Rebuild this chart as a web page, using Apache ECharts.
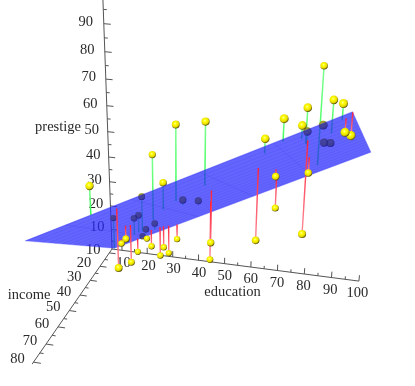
<!DOCTYPE html>
<html><head><meta charset="utf-8"><style>html,body{margin:0;padding:0;background:#fff}#c{width:415px;height:386px}</style>
<script src="https://cdn.jsdelivr.net/npm/echarts@6/dist/echarts.min.js"></script></head><body><div id="c"></div>
<script>
// Values read per point: education, income, prestige
const education=[86,76,92,90,86,84,93,100,87,86,74,98,97,84,91,34,45,56,44,82,72,55,71,50,23,39,28,32,22,25,29,7,26,19,15,20,26,28,17,22,30,25,20,47,32];
const income=[62,72,75,55,64,21,64,80,67,72,42,76,76,41,48,76,53,60,42,78,29,48,55,29,21,47,81,36,22,44,15,7,42,9,21,21,16,16,9,14,12,17,7,34,8];
const prestige=[82,83,90,76,90,87,93,90,52,88,57,89,97,59,73,38,76,81,45,92,39,34,41,16,33,53,67,57,26,29,10,15,19,10,13,24,20,7,3,16,6,11,8,41,10];
const prestigeTicks=[10,20,30,40,50,60,70,80,90];
const educationTicks=[10,20,30,40,50,60,70,80,90,100];
const incomeTicks=[10,20,30,40,50,60,70,80];
const planeCoef=[-6.06,0.546,0.599];
const MIN=[6,7,1.5], MAX=[100,81,100], PLANE_MIN=[7,7];

function project(e,i,p){
  const s=e-MIN[0],t=i-MIN[1],r=p-MIN[2];
  const d=1-0.000514*s-0.0023*t-0.00118*r;
  return [112+(2.5*s-0.895*t-0.083*r)/d, 249+(0.325*s+1.29*t-2.28*r)/d, d];
}
const plane=(e,i)=>planeCoef[0]+planeCoef[1]*e+planeCoef[2]*i;
function seg(a,b){const p=project(a[0],a[1],a[2]),q=project(b[0],b[1],b[2]);return [p[0],p[1],q[0],q[1]];}

const axisSegs=[seg(MIN,[MAX[0],MIN[1],MIN[2]]),seg(MIN,[MIN[0],MAX[1],MIN[2]]),seg(MIN,[MIN[0],MIN[1],MAX[2]])];
for(let v=5;v<=100;v+=5){const L=v%10?1.25:2.5;
  if(v>=10){axisSegs.push(seg([v,MIN[1],MIN[2]],[v,MIN[1],MIN[2]+L]));}
  if(v>=10&&v<=80){axisSegs.push(seg([MIN[0],v,MIN[2]],[MIN[0]+L,v,MIN[2]]));}
  if(v>=5){axisSegs.push(seg([MIN[0],MIN[1],v],[MIN[0]+L,MIN[1],v]));}
}
const labels=[];
prestigeTicks.forEach(v=>{const p=project(MIN[0],MIN[1],v);labels.push([p[0]-14-4*(v-10)/80,p[1]-2,String(v)]);});
educationTicks.forEach(v=>{const p=project(v,MIN[1],MIN[2]);labels.push([p[0]+1.5-3*(v-10)/90,p[1]+12.5,String(v)]);});
incomeTicks.forEach(v=>{const p=project(MIN[0],v,MIN[2]);labels.push([p[0]-16,p[1]-3,String(v)]);});
labels.push([58,127,'prestige'],[29,295,'income'],[232.5,292,'education']);

const corners=[[PLANE_MIN[0],PLANE_MIN[1]],[MAX[0],PLANE_MIN[1]],[MAX[0],MAX[1]],[PLANE_MIN[0],MAX[1]]].map(c=>{const p=project(c[0],c[1],plane(c[0],c[1]));return [p[0],p[1]];});
const planeLines=[];
for(let i=10;i<MAX[1];i+=5)planeLines.push(seg([PLANE_MIN[0],i,plane(PLANE_MIN[0],i)],[MAX[0],i,plane(MAX[0],i)]));
for(let e=20;e<MAX[0];e+=20)planeLines.push(seg([e,PLANE_MIN[1],plane(e,PLANE_MIN[1])],[e,MAX[1],plane(e,MAX[1])]));
function inPlane(x,y){let c=false;for(let a=0,b=3;a<4;b=a++){const A=corners[a],B=corners[b];
  if((A[1]>y)!==(B[1]>y)&&x<(B[0]-A[0])*(y-A[1])/(B[1]-A[1])+A[0])c=!c;}return c;}

const above=[],below=[],aboveBalls=[],belowBalls=[],shadedBalls=[];
education.forEach((e,k)=>{const i=income[k],z=prestige[k],f=plane(e,i);
  const pb=project(e,i,z),pf=project(e,i,f);
  const item=[pb[0],pb[1],pf[0],pf[1]],ball=[pb[0],pb[1],6.2/pb[2]];
  if(z>=f-0.5){above.push(item);aboveBalls.push(ball);if(inPlane(pb[0],pb[1]))shadedBalls.push(ball);}else{below.push(item);belowBalls.push(ball);}
});
const xy=api=>{const a=api.coord([api.value(0),api.value(1)]),b=api.coord([api.value(2),api.value(3)]);return [a,b];};
const lineSeries=(data,c1,c2,w,z)=>({type:'custom',z,data,clip:false,silent:true,encode:{x:[0,2],y:[1,3]},
  renderItem:(p,api)=>{const [a,b]=xy(api);return {type:'line',shape:{x1:a[0],y1:a[1],x2:b[0],y2:b[1]},
   style:{lineWidth:w,stroke:c2?{type:'linear',global:true,x:a[0],y:a[1],x2:b[0],y2:b[1],colorStops:[{offset:0,color:c2},{offset:1,color:c1}]}:c1}};}});
const ballSeries=(data,z)=>({type:'scatter',z,data,symbolSize:v=>v[2],clip:false,silent:true,
  itemStyle:{opacity:1,color:{type:'radial',x:0.42,y:0.38,r:0.62,colorStops:[{offset:0,color:'#ffffa8'},{offset:0.3,color:'#ffff00'},{offset:0.72,color:'#e4d800'},{offset:1,color:'#4e4600'}]}}});
const option={animation:false,backgroundColor:'#fff',
 grid:{left:0,right:0,top:0,bottom:0},
 xAxis:{type:'value',min:0,max:415,show:false},
 yAxis:{type:'value',min:0,max:386,inverse:true,show:false},
 series:[
  lineSeries(axisSegs,'#555',null,1,1),
  {type:'custom',z:2,data:labels,clip:false,silent:true,encode:{x:0,y:1},renderItem:(p,api)=>{const a=api.coord([api.value(0),api.value(1)]);
    return {type:'text',style:{x:a[0],y:a[1],text:labels[p.dataIndex][2],fill:'#2a2a2a',align:'center',verticalAlign:'middle',font:'14.5px "Liberation Serif"'}};}},
  lineSeries(above,'#30ff50','#80ff90',1.5,3),
  ballSeries(aboveBalls,4),
  {type:'custom',z:5,data:[[0,0]],clip:false,silent:true,encode:{x:0,y:1},renderItem:(p,api)=>({type:'polygon',shape:{points:corners.map(c=>api.coord(c))},style:{fill:'rgba(40,40,255,0.72)',stroke:'rgba(70,70,255,0.6)',lineWidth:0.5}})},
  {type:'scatter',z:6,data:shadedBalls,symbolSize:v=>v[2],clip:false,silent:true,itemStyle:{opacity:1,color:'rgba(20,20,110,0.4)'}},
  lineSeries(planeLines,'rgba(30,30,190,0.10)',null,1,6),
  lineSeries(below,'#ff2038','#ff8c98',1.4,7),
  ballSeries(belowBalls,8)
 ]};
echarts.init(document.getElementById('c'),null,{renderer:'canvas'}).setOption(option);
</script></body></html>
